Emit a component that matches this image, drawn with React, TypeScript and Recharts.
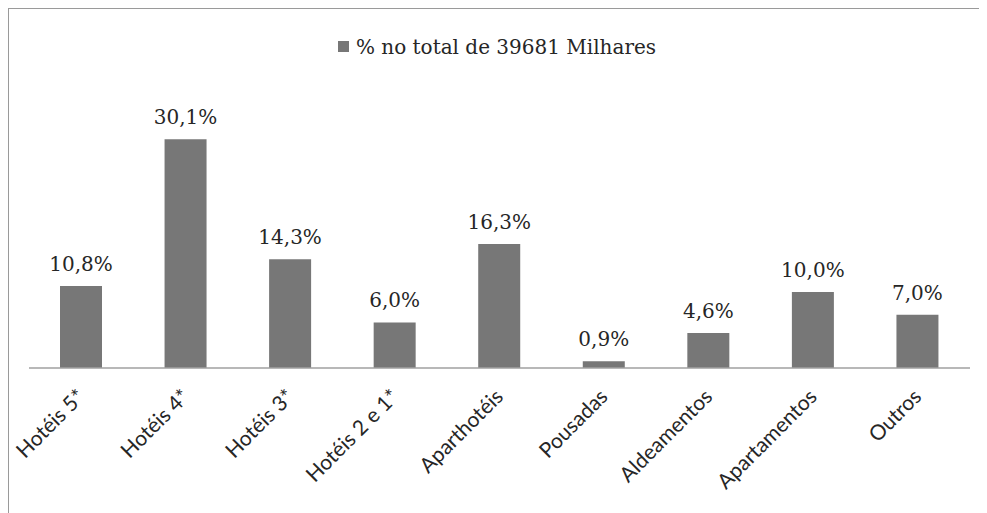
import React from "react";
import { BarChart, Bar, XAxis, YAxis, LabelList } from "recharts";

const categories = [
  "Hotéis 5*",
  "Hotéis 4*",
  "Hotéis 3*",
  "Hotéis 2 e 1*",
  "Aparthotéis",
  "Pousadas",
  "Aldeamentos",
  "Apartamentos",
  "Outros",
];
const shares = [10.8, 30.1, 14.3, 6.0, 16.3, 0.9, 4.6, 10.0, 7.0];
const seriesName = "% no total de 39681 Milhares";

const data = categories.map((c, i) => ({ name: c, value: shares[i] }));

const BAR = "#777777";
const TEXT = "#262626";
const SERIF = "'DejaVu Serif', serif";
const SANS = "Lato, 'Open Sans', sans-serif";

// rotated category labels, anchored at their right end
const AngledTick = (props: any) => {
  const { x, y, payload } = props;
  return (
    <g transform={`translate(${x + 5},${y + 22})`}>
      <text
        x={0}
        y={0}
        textAnchor="end"
        transform="rotate(-45)"
        fontFamily={SANS}
        fontSize={21}
        fill={TEXT}
      >
        {payload.value}
      </text>
    </g>
  );
};

const fmt = (v: number) => v.toFixed(1).replace(".", ",") + "%";

const TopLabel = (props: any) => {
  const { x, y, width, value } = props;
  return (
    <text
      x={x + width / 2}
      y={y - 15}
      textAnchor="middle"
      fontFamily={SERIF}
      fontSize={20}
      fill={TEXT}
    >
      {fmt(value)}
    </text>
  );
};

export default function App() {
  return (
    <div
      style={{
        position: "relative",
        width: 976,
        height: 530,
        border: "1px solid #9a9a9a",
        background: "#fff",
      }}
    >
      <div
        style={{
          position: "absolute",
          top: 26,
          left: 0,
          width: "100%",
          textAlign: "center",
          fontFamily: SERIF,
          fontSize: 20,
          lineHeight: "24px",
          color: TEXT,
        }}
      >
        <span
          style={{
            display: "inline-block",
            width: 11,
            height: 11,
            background: BAR,
            marginRight: 7,
            verticalAlign: "middle",
            position: "relative",
            top: -2,
          }}
        />
        {seriesName}
      </div>
      <BarChart
        width={976}
        height={510}
        data={data}
        margin={{ top: 93, right: 15, bottom: 21, left: 20 }}
      >
        <XAxis
          dataKey="name"
          height={130}
          interval={0}
          tickLine={false}
          axisLine={{ stroke: "#a0a0a0", strokeWidth: 1.5 }}
          tick={<AngledTick />}
        />
        <YAxis hide domain={[0, 35]} />
        <Bar dataKey="value" fill={BAR} barSize={42} isAnimationActive={false}>
          <LabelList dataKey="value" content={<TopLabel />} />
        </Bar>
      </BarChart>
    </div>
  );
}
